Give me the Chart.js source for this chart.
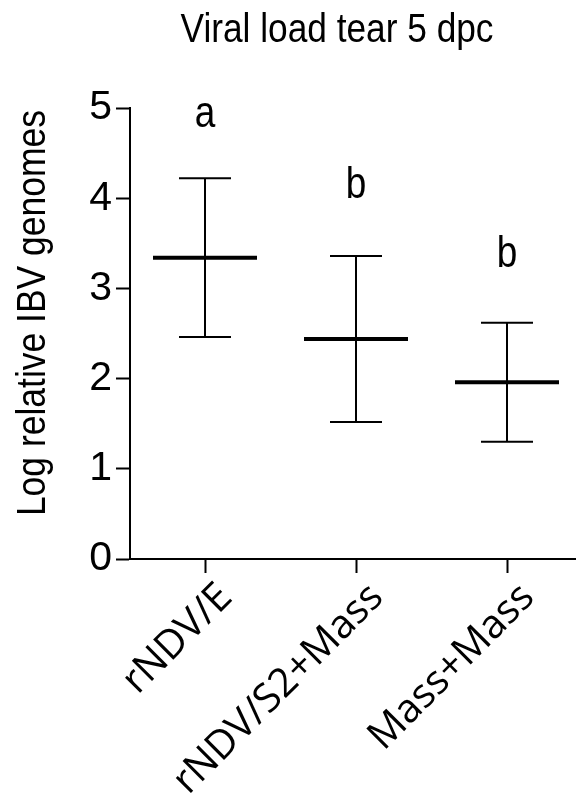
<!DOCTYPE html>
<html><head><meta charset="utf-8">
<script src="https://cdn.jsdelivr.net/npm/chart.js@4"></script>
<style>html,body{margin:0;padding:0;background:#fff}canvas{display:block}</style>
</head><body>
<canvas id="c" width="576" height="793"></canvas>
<script>
const categories = ['rNDV/E', 'rNDV/S2+Mass', 'Mass+Mass'];
const means = [3.34, 2.44, 1.96];
const upper = [4.22, 3.36, 2.62];
const lower = [2.46, 1.52, 1.30];
const letters = ['a', 'b', 'b'];
const letterY = [4.79, 4.00, 3.24];
const yTicks = [0, 1, 2, 3, 4, 5];
const titleText = 'Viral load tear 5 dpc';
const yTitle = 'Log relative IBV genomes';

const SANS = "'Liberation Sans','Arial',sans-serif";
const XFONT = "'Open Sans','Noto Sans',sans-serif";

const stemData = [];
categories.forEach((c, i) => {
  stemData.push({x: i, y: lower[i]}, {x: i, y: upper[i]}, {x: i + 0.5, y: null});
});
const capData = [];
categories.forEach((c, i) => {
  capData.push({x: i, y: upper[i]}, {x: i, y: lower[i]});
});
const meanData = means.map((m, i) => ({x: i, y: m}));

function narrowText(ctx, text, x, y, rot, align, sx) {
  ctx.save();
  ctx.translate(x, y);
  if (rot) ctx.rotate(rot);
  ctx.scale(sx, 1);
  ctx.textAlign = align;
  ctx.textBaseline = 'alphabetic';
  ctx.fillText(text, 0, 0);
  ctx.restore();
}

const extras = {
  id: 'extras',
  afterDatasetsDraw(chart) {
    const {ctx, scales: {x, y}} = chart;
    ctx.save();
    ctx.fillStyle = '#000';
    ctx.font = '44px ' + SANS;
    letters.forEach((l, i) => {
      narrowText(ctx, l, x.getPixelForValue(i), y.getPixelForValue(letterY[i]), 0, 'center', 0.84);
    });
    ctx.font = '41px ' + SANS;
    narrowText(ctx, titleText, 337, 42, 0, 'center', 0.86);
    narrowText(ctx, yTitle, 45, 110, -Math.PI / 2, 'right', 0.865);
    ctx.restore();
  }
};

new Chart(document.getElementById('c'), {
  type: 'scatter',
  data: {
    datasets: [
      {type: 'line', data: stemData, borderColor: '#000', borderWidth: 2, pointRadius: 0, spanGaps: false, fill: false},
      {data: capData, pointStyle: 'line', pointRadius: 26, pointBorderWidth: 2, borderColor: '#000', backgroundColor: '#000'},
      {data: meanData, pointStyle: 'line', pointRadius: 52, pointBorderWidth: 4, borderColor: '#000', backgroundColor: '#000'}
    ]
  },
  options: {
    responsive: false,
    animation: false,
    devicePixelRatio: 1,
    events: [],
    layout: {autoPadding: false, padding: {top: 108, left: 0, right: 0, bottom: 0}},
    plugins: {legend: {display: false}, tooltip: {enabled: false}, title: {display: false}},
    scales: {
      x: {
        type: 'linear',
        min: (130 - 205) / 151,
        max: (576 - 205) / 151,
        afterFit(s) { s.height = 234; s.paddingLeft = 0; s.paddingRight = 0; },
        afterBuildTicks(s) { s.ticks = categories.map((c, i) => ({value: i})); },
        border: {display: true, color: '#000', width: 2},
        grid: {drawOnChartArea: false, drawTicks: true, tickLength: 14, tickWidth: 2, tickColor: '#000'},
        ticks: {
          autoSkip: false, minRotation: 45, maxRotation: 45, padding: 1, labelOffset: 21, color: '#000',
          font: {family: XFONT, size: 40},
          callback: (v) => categories[v]
        }
      },
      y: {
        min: 0, max: 5,
        afterFit(s) { s.width = 130; s.paddingTop = 0; s.paddingBottom = 0; },
        afterBuildTicks(s) { s.ticks = yTicks.map(v => ({value: v})); },
        border: {display: true, color: '#000', width: 2},
        grid: {drawOnChartArea: false, drawTicks: true, tickLength: 14, tickWidth: 2, tickColor: '#000'},
        ticks: {padding: 4, color: '#000', font: {family: SANS, size: 41}}
      }
    }
  },
  plugins: [extras]
});
</script>
</body></html>
